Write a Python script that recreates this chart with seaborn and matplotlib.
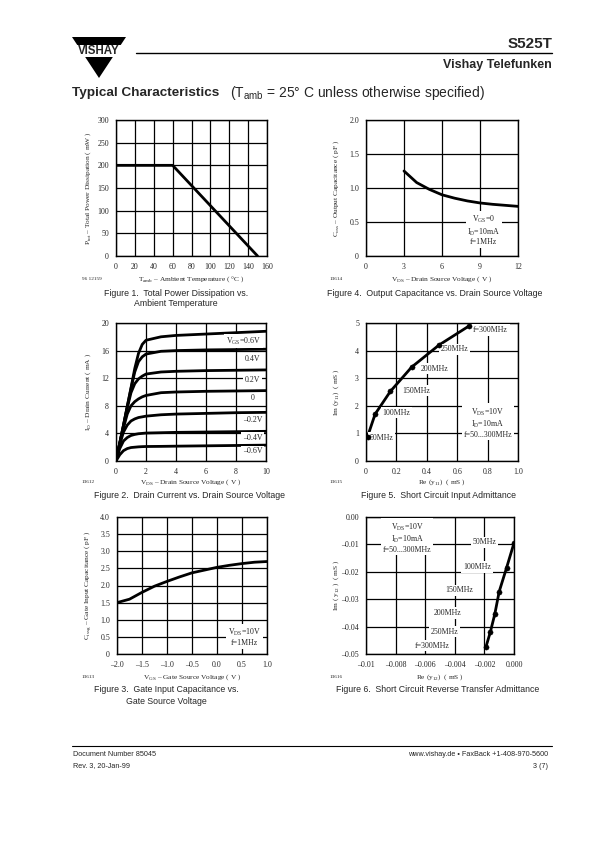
import numpy as np
import pandas as pd
import seaborn as sns
import matplotlib.pyplot as plt
from matplotlib.patches import Polygon, Rectangle

# ---- data ----
fig1_temp = [0, 60, 150]
fig1_ptot = [200, 200, 0]

fig4_vds = [3, 4, 5, 6, 7, 8, 9, 10, 11, 12]
fig4_coss = [1.25, 1.08, 0.98, 0.90, 0.85, 0.81, 0.78, 0.76, 0.745, 0.73]

fig2_vgs = ['0.6V', '0.4V', '0.2V', '0', '-0.2V', '-0.4V', '-0.6V']
fig2_vds = [0, 0.25, 0.5, 0.75, 1.0, 1.25, 1.5, 1.75, 2, 3, 4, 6, 8, 10]
fig2_id = {
    '0.6V':  [0, 2.6, 5.2, 7.9, 10.6, 13.4, 15.6, 16.9, 17.5, 18.0, 18.2, 18.4, 18.6, 18.8],
    '0.4V':  [0, 2.6, 5.2, 7.9, 10.5, 12.9, 14.4, 15.1, 15.5, 15.9, 16.0, 16.1, 16.15, 16.2],
    '0.2V':  [0, 2.6, 5.1, 7.7, 9.9, 11.2, 11.9, 12.3, 12.6, 12.9, 13.0, 13.1, 13.15, 13.2],
    '0':     [0, 2.5, 4.8, 6.8, 8.0, 8.6, 9.0, 9.3, 9.5, 9.9, 10.0, 10.1, 10.15, 10.2],
    '-0.2V': [0, 2.4, 4.2, 5.2, 5.8, 6.1, 6.3, 6.4, 6.5, 6.7, 6.8, 6.9, 7.0, 7.05],
    '-0.4V': [0, 1.8, 2.9, 3.4, 3.7, 3.85, 3.95, 4.0, 4.05, 4.1, 4.15, 4.2, 4.25, 4.3],
    '-0.6V': [0, 0.9, 1.5, 1.8, 1.95, 2.0, 2.05, 2.08, 2.1, 2.12, 2.15, 2.2, 2.25, 2.3],
}
fig2_label_text = ['V$_{\\rm GS}$=0.6V', '0.4V', '0.2V', '0', '\u20130.2V', '\u20130.4V', '\u20130.6V']
fig2_label_y = [17.4, 14.8, 11.8, 9.1, 6.0, 3.4, 1.4]

fig3_vgs = [-2.0, -1.75, -1.5, -1.25, -1.0, -0.75, -0.5, -0.25, 0.0, 0.25, 0.5, 0.75, 1.0]
fig3_cissg = [1.5, 1.6, 1.8, 1.98, 2.12, 2.25, 2.37, 2.45, 2.53, 2.59, 2.64, 2.68, 2.7]

freq_labels = ['50MHz', '100MHz', '150MHz', '200MHz', '250MHz', 'f=300MHz']
fig5_re = [0.01, 0.06, 0.16, 0.30, 0.48, 0.68]
fig5_im = [0.88, 1.70, 2.52, 3.40, 4.20, 4.90]

fig6_re = [0.0, -0.0005, -0.0010, -0.0013, -0.0016, -0.0019]
fig6_im = [-0.0095, -0.0185, -0.0272, -0.0355, -0.0420, -0.0475]

sns.set_style('white')
plt.rcParams['font.family'] = ['Liberation Serif', 'DejaVu Serif']
plt.rcParams['mathtext.fontset'] = 'custom'
plt.rcParams['mathtext.rm'] = 'Liberation Serif'
plt.rcParams['mathtext.sf'] = 'Liberation Sans'

W, H = 595, 842
fig = plt.figure(figsize=(W / 100, H / 100), dpi=100)
SANS = ['Liberation Sans', 'DejaVu Sans']
TICK = 5.7
LAB = 5.3


def px_axes(left, top, right, bottom):
    return fig.add_axes([left / W, 1 - bottom / H, (right - left) / W, (bottom - top) / H])


def ftext(x, y, s, **kw):
    return fig.text(x / W, 1 - y / H, s, **kw)


def style(ax, xlim, ylim, xticks, yticks, xlabels=None, ylabels=None):
    ax.set_xlim(xlim)
    ax.set_ylim(ylim)
    ax.set_xticks(xticks)
    ax.set_yticks(yticks)
    if xlabels is not None:
        ax.set_xticklabels(xlabels)
    if ylabels is not None:
        ax.set_yticklabels(ylabels)
    ax.grid(True, color='black', lw=0.9)
    ax.set_axisbelow(True)
    for s in ax.spines.values():
        s.set_visible(True)
        s.set_color('black')
        s.set_linewidth(1.0)
    ax.tick_params(length=0, labelsize=TICK, pad=5)
    ax.set_xlabel('')
    ax.set_ylabel('')


def labels(ax, xlab, ylab, num, xl_y, yl_x, num_x):
    b = ax.get_position()
    cx = (b.x0 + b.x1) / 2 * W
    cy = (1 - (b.y0 + b.y1) / 2) * H
    ftext(cx, xl_y, xlab, fontsize=LAB, ha='center', va='center')
    ftext(yl_x, cy, ylab, fontsize=LAB, ha='center', va='center', rotation=90)
    ftext(num_x, xl_y, num, fontsize=3.8, ha='left', va='center')


box = dict(fc='white', ec='none', pad=1.2)
LW = 2.0

# ---- Figure 1 ----
ax1 = px_axes(116, 120, 267, 256)
d1 = pd.DataFrame({'T': fig1_temp, 'P': fig1_ptot})
sns.lineplot(data=d1, x='T', y='P', ax=ax1, color='black', lw=LW)
style(ax1, (0, 160), (0, 300), range(0, 161, 20), range(0, 301, 50))
labels(ax1, 'T$_{\\rm amb}$ \u2013 Ambient Temperature ( \u00b0C )',
       'P$_{\\rm tot}$ \u2013 Total Power Dissipation ( mW )', '96 12159', 279, 88, 82)

# ---- Figure 4 ----
ax4 = px_axes(366, 120, 518, 256)
d4 = pd.DataFrame({'V': fig4_vds, 'C': fig4_coss})
sns.lineplot(data=d4, x='V', y='C', ax=ax4, color='black', lw=LW)
style(ax4, (0, 12), (0, 2.0), [0, 3, 6, 9, 12], [0, 0.5, 1.0, 1.5, 2.0],
      ['0', '3', '6', '9', '12'], ['0', '0.5', '1.0', '1.5', '2.0'])
ax4.text(9.3, 0.38, 'V$_{\\rm GS}$=0\nI$_{\\rm D}$=10mA\nf=1MHz', fontsize=TICK,
         ha='center', va='center', bbox=box, linespacing=1.1)
labels(ax4, 'V$_{\\rm DS}$ \u2013 Drain Source Voltage ( V )',
       'C$_{\\rm oss}$ \u2013 Output Capacitance ( pF )', '13614', 279, 336, 330)

# ---- Figure 2 ----
ax2 = px_axes(116, 323, 266, 461)
rows = []
for g in fig2_vgs:
    for v, i in zip(fig2_vds, fig2_id[g]):
        rows.append({'VDS': v, 'ID': i, 'VGS': g})
d2 = pd.DataFrame(rows)
sns.lineplot(data=d2, x='VDS', y='ID', hue='VGS', palette=['black'] * len(fig2_vgs),
             ax=ax2, lw=LW, legend=False)
style(ax2, (0, 10), (0, 20), range(0, 11, 2), range(0, 21, 4))
for t, y in zip(fig2_label_text, fig2_label_y):
    x = 8.5 if t.startswith('V') else 9.1
    ax2.text(x, y, t, fontsize=TICK, ha='center', va='center', bbox=box)
labels(ax2, 'V$_{\\rm DS}$ \u2013 Drain Source Voltage ( V )',
       'I$_{\\rm D}$ \u2013 Drain Current ( mA )', '13612', 482, 88, 82)

# ---- Figure 5 ----
ax5 = px_axes(366, 323, 518, 461)
d5 = pd.DataFrame({'Re': fig5_re, 'Im': fig5_im, 'f': freq_labels})
sns.lineplot(data=d5, x='Re', y='Im', ax=ax5, color='black', lw=LW, sort=False)
sns.scatterplot(data=d5, x='Re', y='Im', ax=ax5, color='black', s=14, edgecolor='black', zorder=5)
style(ax5, (0, 1.0), (0, 5), [0, 0.2, 0.4, 0.6, 0.8, 1.0], range(0, 6),
      ['0', '0.2', '0.4', '0.6', '0.8', '1.0'])
f5_pos = [(0.10, 0.85), (0.20, 1.75), (0.33, 2.55), (0.45, 3.35), (0.58, 4.05), (0.82, 4.75)]
for t, (x, y) in zip(freq_labels, f5_pos):
    ax5.text(x, y, t, fontsize=TICK, ha='center', va='center', bbox=box)
ax5.text(0.8, 1.4, 'V$_{\\rm DS}$=10V\nI$_{\\rm D}$=10mA\nf=50...300MHz', fontsize=TICK,
         ha='center', va='center', bbox=box, linespacing=1.1)
labels(ax5, 'Re (y$_{11}$)  ( mS )', 'Im (y$_{11}$)  ( mS )', '13615', 482, 336, 330)

# ---- Figure 3 ----
ax3 = px_axes(117, 517, 267, 654)
d3 = pd.DataFrame({'V': fig3_vgs, 'C': fig3_cissg})
sns.lineplot(data=d3, x='V', y='C', ax=ax3, color='black', lw=LW)
xt3 = [-2.0, -1.5, -1.0, -0.5, 0.0, 0.5, 1.0]
yt3 = [0, 0.5, 1.0, 1.5, 2.0, 2.5, 3.0, 3.5, 4.0]
style(ax3, (-2, 1), (0, 4), xt3, yt3,
      [('%.1f' % v).replace('-', '\u2013') for v in xt3],
      ['0'] + ['%.1f' % v for v in yt3[1:]])
ax3.text(0.55, 0.5, 'V$_{\\rm DS}$=10V\nf=1MHz', fontsize=TICK, ha='center', va='center',
         bbox=box, linespacing=1.1)
labels(ax3, 'V$_{\\rm GS}$ \u2013 Gate Source Voltage ( V )',
       'C$_{\\rm issg}$ \u2013 Gate Input Capacitance ( pF )', '13613', 677, 88, 82)

# ---- Figure 6 ----
ax6 = px_axes(366, 517, 514, 654)
d6 = pd.DataFrame({'Re': fig6_re, 'Im': fig6_im, 'f': freq_labels})
sns.lineplot(data=d6, x='Re', y='Im', ax=ax6, color='black', lw=LW, sort=False)
sns.scatterplot(data=d6, x='Re', y='Im', ax=ax6, color='black', s=14, edgecolor='black', zorder=5)
xt6 = [-0.01, -0.008, -0.006, -0.004, -0.002, 0.0]
yt6 = [-0.05, -0.04, -0.03, -0.02, -0.01, 0.0]
style(ax6, (-0.01, 0), (-0.05, 0), xt6, yt6,
      ['\u20130.01', '\u20130.008', '\u20130.006', '\u20130.004', '\u20130.002', '0.000'],
      ['\u20130.05', '\u20130.04', '\u20130.03', '\u20130.02', '\u20130.01', '0.00'])
f6_pos = [(-0.0020, -0.0093), (-0.0025, -0.0183), (-0.0037, -0.0268),
          (-0.0045, -0.0350), (-0.0047, -0.0418), (-0.0055, -0.0470)]
for t, (x, y) in zip(freq_labels, f6_pos):
    ax6.text(x, y, t, fontsize=TICK, ha='center', va='center', bbox=box)
ax6.text(-0.0072, -0.0075, 'V$_{\\rm DS}$=10V\nI$_{\\rm D}$=10mA\nf=50...300MHz', fontsize=TICK,
         ha='center', va='center', bbox=box, linespacing=1.1)
labels(ax6, 'Re (y$_{12}$)  ( mS )', 'Im ( y$_{12}$ )  ( mS )', '13616', 677, 336, 330)

# ---- captions ----
cap = dict(fontsize=6.3, ha='center', va='center', family=SANS)
ftext(176, 293, 'Figure 1.  Total Power Dissipation vs.', **cap)
ftext(176, 303, 'Ambient Temperature', **cap)
ftext(435, 293, 'Figure 4.  Output Capacitance vs. Drain Source Voltage', **cap)
ftext(190, 496, 'Figure 2.  Drain Current vs. Drain Source Voltage', **cap)
ftext(438, 496, 'Figure 5.  Short Circuit Input Admittance', **cap)
ftext(166, 690, 'Figure 3.  Gate Input Capacitance vs.', **cap)
ftext(166, 701, 'Gate Source Voltage', **cap)
ftext(438, 690, 'Figure 6.  Short Circuit Reverse Transfer Admittance', **cap)

# ---- header ----
fig.patches.append(Polygon([[72 / W, 1 - 37 / H], [126 / W, 1 - 37 / H], [99 / W, 1 - 78 / H]],
                           closed=True, fc='black', ec='none', transform=fig.transFigure))
fig.patches.append(Rectangle((70 / W, 1 - 57 / H), 58 / W, 12 / H, fc='white', ec='none',
                             transform=fig.transFigure))
ftext(99, 51, 'VISHAY', fontsize=8.3, weight='bold', ha='center', va='center', family=SANS)
fig.add_artist(plt.Line2D([136 / W, 552 / W], [1 - 53 / H, 1 - 53 / H], color='black', lw=1.0))
ftext(552, 44, 'S525T', fontsize=11, weight='bold', ha='right', va='center', family=SANS)
ftext(552, 65, 'Vishay Telefunken', fontsize=9, weight='bold', ha='right', va='center', family=SANS)
ftext(72, 93, 'Typical Characteristics', fontsize=9.7, weight='bold', ha='left', va='center', family=SANS)
ftext(230, 93, '(T$_{\\mathsf{amb}}$ = 25\u00b0 C unless otherwise specified)', fontsize=10,
      ha='left', va='center', family=SANS)

# ---- footer ----
fig.add_artist(plt.Line2D([72 / W, 552 / W], [1 - 746 / H, 1 - 746 / H], color='black', lw=0.8))
foot = dict(fontsize=5.2, va='center', family=SANS)
ftext(73, 755, 'Document Number 85045', ha='left', **foot)
ftext(73, 766, 'Rev. 3, 20-Jan-99', ha='left', **foot)
ftext(548, 755, 'www.vishay.de \u2022 FaxBack +1-408-970-5600', ha='right', **foot)
ftext(548, 766, '3 (7)', ha='right', **foot)

fig.savefig('out.png', dpi=100)
